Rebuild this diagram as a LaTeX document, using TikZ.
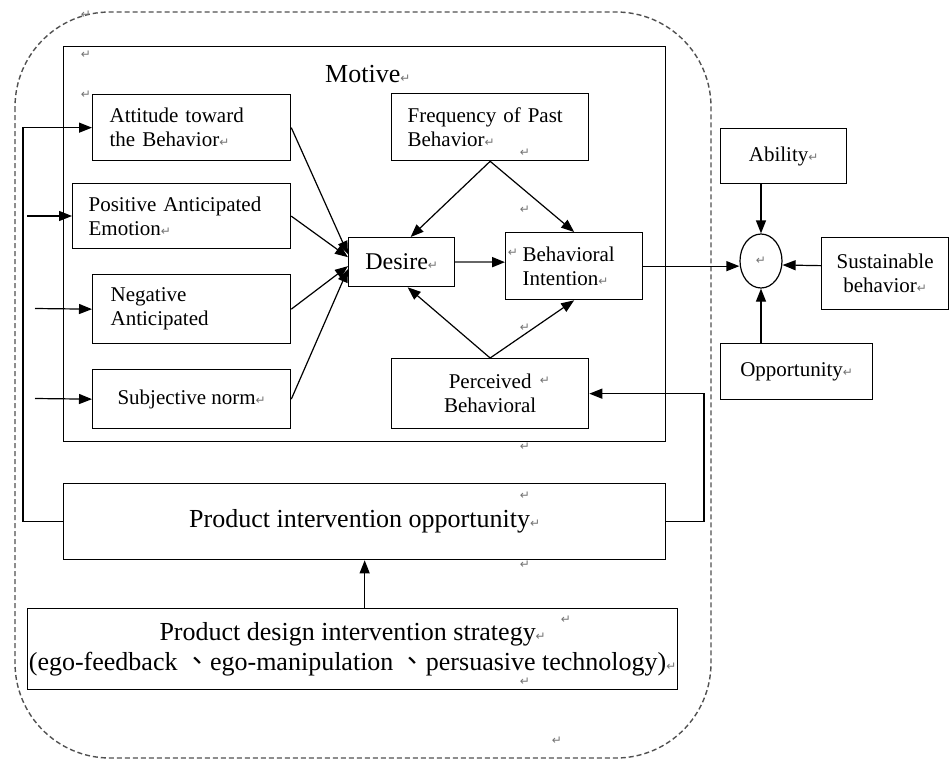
\documentclass[tikz,border=0pt]{standalone}
\usepackage{fontspec}
\setmainfont{Liberation Serif}
\newfontfamily\symfont{DejaVu Sans}
\newfontfamily\cjk{Noto Sans CJK TC}
\usetikzlibrary{arrows.meta,calc,shapes.geometric}
\definecolor{retg}{RGB}{115,115,115}
\definecolor{dashg}{RGB}{80,80,80}
\newcommand\retm{{\color{retg}\symfont\fontsize{12}{12}\selectfont ↵}}
\tikzset{
  box/.style={draw, line width=1.3pt, inner sep=0pt, anchor=north west},
  sm/.style={font=\fontsize{21}{24}\selectfont},
  bg/.style={font=\fontsize{26}{30}\selectfont},
  arr/.style={-{Triangle[length=13pt,width=10pt]}, line width=1.2pt},
  ret/.style={inner sep=0pt, font=\symfont\fontsize{12}{12}\selectfont, text=retg},
}
\begin{document}
\begin{tikzpicture}[x=1pt,y=-1pt]
\useasboundingbox (0,0) rectangle (951,761);
% outer dashed frame
\draw[dashg, line width=1.4pt, dash pattern=on 5pt off 3pt, rounded corners=95pt] (15,12) rectangle (711,758);
% motive frame
\node[box, minimum width=602pt, minimum height=395pt] (mot) at (63,46) {};
\node[bg, anchor=base west, inner sep=0pt] (motlbl) at (325,82) {Motive\retm};
% left boxes
\node[box, sm, minimum width=198pt, minimum height=66pt, text width=164pt, inner xsep=17pt, align=left] (att) at (92,94) {Attitude toward\\the Behavior\retm};
\node[box, sm, minimum width=218pt, minimum height=65pt, text width=186pt, inner xsep=16pt, align=left] (pos) at (72,183) {Positive Anticipated\\Emotion\retm};
\node[box, sm, minimum width=198pt, minimum height=69pt, text width=162pt, inner xsep=18pt, align=left] (neg) at (92,274) {Negative\\Anticipated};
\node[box, sm, minimum width=198pt, minimum height=59pt, align=center] (sub) at (92,369) {Subjective norm\retm};
% middle boxes
\node[box, sm, minimum width=197pt, minimum height=67pt, text width=165pt, inner xsep=16pt, align=left] (frq) at (391,93) {Frequency of Past\\Behavior\retm};
\node[box, font=\fontsize{24}{28}\selectfont, minimum width=106pt, minimum height=49pt, align=center] (des) at (348,237) {Desire\retm};
\node[box, sm, minimum width=137pt, minimum height=67pt, text width=103pt, inner xsep=17pt, align=left] (bi) at (505,232) {Behavioral\\Intention\retm};
\node[box, sm, minimum width=197pt, minimum height=70pt, align=center] (pbc) at (391,358) {Perceived\\Behavioral};
% right boxes
\node[box, sm, minimum width=126pt, minimum height=55pt, align=center] (abl) at (720,128) {Ability\retm};
\node[box, sm, minimum width=127pt, minimum height=72pt, align=center] (sus) at (821,237) {Sustainable\\behavior\retm};
\node[box, sm, minimum width=152pt, minimum height=56pt, align=center] (opp) at (720,343) {Opportunity\retm};
\node[draw, ellipse, line width=1.2pt, minimum width=42pt, minimum height=54pt, inner sep=0pt] (circ) at (761,261) {\retm};
% bottom boxes
\node[box, bg, minimum width=602pt, minimum height=76pt, align=center] (pio) at (63,483) {Product intervention opportunity\retm};
\node[box, bg, minimum width=650pt, minimum height=81pt, align=center] (pds) at (27,608) {Product design intervention strategy\retm\\(ego-feedback {\cjk 、}ego-manipulation {\cjk 、}persuasive technology)\retm};
% connectors inside motive
\draw[arr] (att.east) -- ($(des.west)+(0,-8)$);
\draw[arr] (pos.east) -- ($(des.west)+(0,-5)$);
\draw[arr] (neg.east) -- ($(des.west)+(0,4)$);
\draw[arr] (sub.east) -- ($(des.west)+(0,7)$);
\draw[arr] (frq.south) -- ($(des.north)+(9,0)$);
\draw[arr] (frq.south) -- (bi.north);
\draw[arr] (pbc.north) -- ($(des.south)+(6,0)$);
\draw[arr] (pbc.north) -- (bi.south);
\draw[-{Triangle[length=13pt,width=10pt,black]}, line width=2pt, black!60] (des.east) -- (des.east -| bi.west);
% right side
\draw[arr] (bi.east) -- (bi.east -| circ.west);
\draw[arr] ($(sus.west)+(0,-8)$) -- ($(circ.east)+(0,4)$);
\draw[arr] (circ.north |- abl.south) -- (circ.north);
\draw[arr] (circ.south |- opp.north) -- (circ.south);
% feedback loops
\coordinate (loopL) at (23,300);
\coordinate (loopR) at (704,450);
\draw[arr] (pio.west) -| (loopL) |- (att.west);
\draw[arr] (pio.east) -| (loopR) |- (pbc.east);
\coordinate (inP) at (27,216);
\coordinate (inN) at (35,308.5);
\coordinate (inS) at (35,398.5);
\draw[arr] (inP) -- (inP -| pos.west);
\draw[arr] (inN) -- (neg.west);
\draw[arr] (inS) -- (sub.west);
\draw[arr] (pio.south |- pds.north) -- (pio.south);
% stray paragraph marks
\node[ret] (r1) at (86,15) {↵};
\node[ret] (r2) at (86,55) {↵};
\node[ret] (r3) at (86,95) {↵};
\node[ret] (r4) at (525,153) {↵};
\node[ret] (r5) at (525,210) {↵};
\node[ret] (r6) at (513,253) {↵};
\node[ret] (r7) at (525,328) {↵};
\node[ret] (r8) at (545,381) {↵};
\node[ret] (r9) at (525,447) {↵};
\node[ret] (r10) at (525,496) {↵};
\node[ret] (r11) at (525,565) {↵};
\node[ret] (r12) at (566,620) {↵};
\node[ret] (r13) at (525,682) {↵};
\node[ret] (r14) at (557,741) {↵};
\end{tikzpicture}
\end{document}
